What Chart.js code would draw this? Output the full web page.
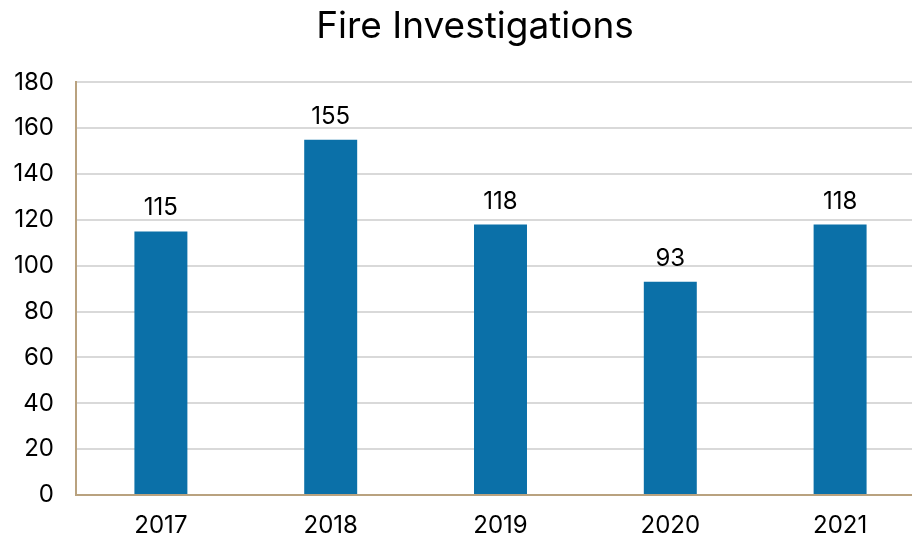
<!DOCTYPE html>
<html>
<head>
<meta charset="utf-8">
<script src="https://cdn.jsdelivr.net/npm/chart.js@4/dist/chart.umd.min.js"></script>
<style>
  html, body { margin: 0; padding: 0; background: #fff; }
  #wrap { width: 912px; height: 540px; overflow: hidden; }
</style>
</head>
<body>
<div id="wrap"><canvas id="graph1" width="950" height="540"></canvas></div>
<script>
var annees = ['2017', '2018', '2019', '2020', '2021'];
var enquetes = [115, 155, 118, 93, 118];
var graduations = [0, 20, 40, 60, 80, 100, 120, 140, 160, 180];

var police = "'Inter', 'Liberation Sans', sans-serif";

// labels above the bars
var etiquettes = {
    id: 'etiquettes',
    afterDatasetsDraw: function (chart) {
        var ctx = chart.ctx;
        var meta = chart.getDatasetMeta(0);
        ctx.save();
        ctx.font = '24px ' + police;
        ctx.fillStyle = '#000';
        ctx.textAlign = 'center';
        ctx.textBaseline = 'alphabetic';
        meta.data.forEach(function (bar, i) {
            ctx.fillText(enquetes[i], bar.x, bar.y - 16);
        });
        ctx.restore();
    }
};

var ctx = document.getElementById('graph1').getContext('2d');
var data = {
    labels: annees,
    datasets: [{
        label: "Fire Investigations",
        data: enquetes,
        backgroundColor: "#0b70a8",
        categoryPercentage: 1,
        barPercentage: 0.312
    }]
}
var options = {
    responsive: false,
    animation: false,
    layout: { padding: 0 },
    plugins: {
        legend: { display: false },
        tooltip: { enabled: false },
        title: {
            display: true,
            text: 'Fire Investigations',
            color: '#000',
            font: { family: police, size: 37, weight: 'normal' },
            padding: { top: 5, bottom: 33 }
        }
    },
    scales: {
        x: {
            afterFit: function (axis) { axis.height = 45; },
            grid: { display: false, drawTicks: false },
            border: { color: '#b9a27f', width: 2 },
            ticks: {
                color: '#000',
                padding: 16,
                font: { family: police, size: 24 }
            }
        },
        y: {
            min: 0,
            max: 180,
            afterBuildTicks: function (axis) {
                axis.ticks = graduations.map(function (v) { return { value: v }; });
            },
            afterFit: function (axis) { axis.width = 76; },
            grid: { color: '#d9d9d9', lineWidth: 2, drawTicks: false },
            border: { color: '#b9a27f', width: 2 },
            ticks: {
                color: '#000',
                padding: 22,
                font: { family: police, size: 24 }
            }
        },
        // empty right margin (the original chart is cut on the right)
        marge: {
            position: 'right',
            min: 0,
            max: 180,
            afterFit: function (axis) { axis.width = 25; },
            grid: { display: false, drawTicks: false },
            border: { display: false },
            ticks: { display: false }
        }
    }
}
var config = {
    type: 'bar',
    data: data,
    options: options,
    plugins: [etiquettes]
}
var graph1 = new Chart(ctx, config)
</script>
</body>
</html>
